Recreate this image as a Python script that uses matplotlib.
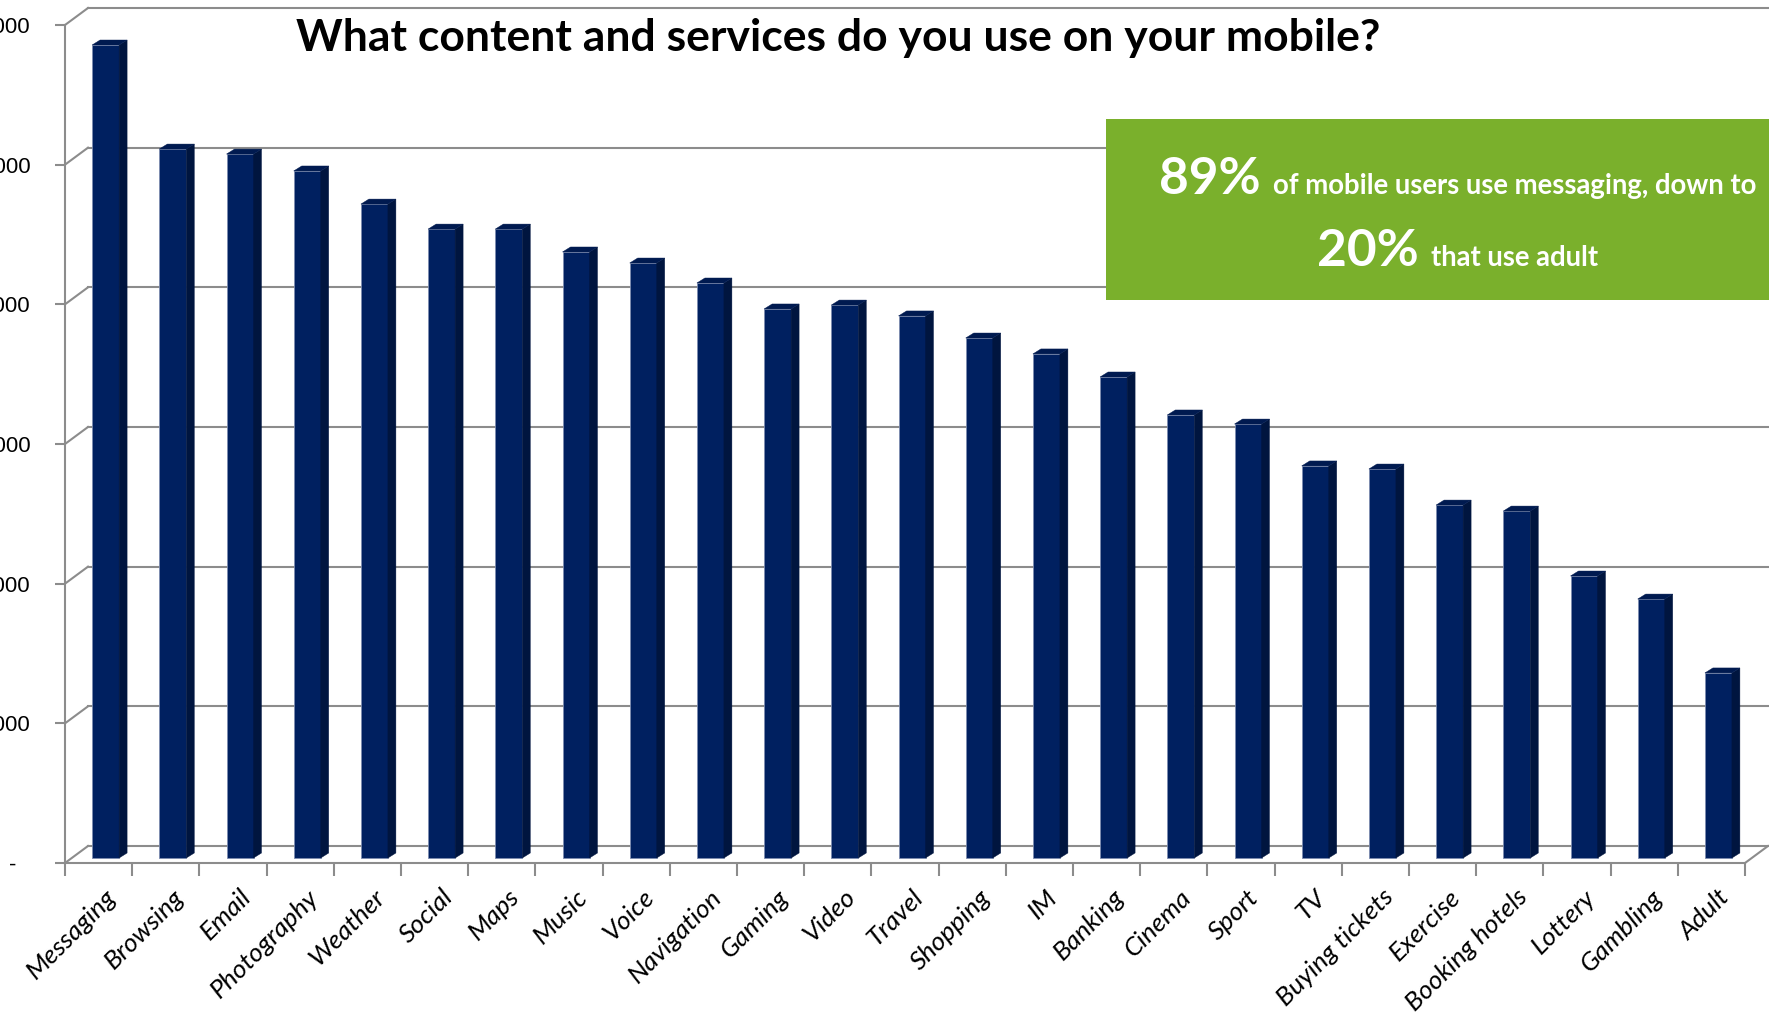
import matplotlib
matplotlib.use("Agg")
import matplotlib.pyplot as plt
from matplotlib.patches import Polygon, Rectangle
from matplotlib.transforms import ScaledTranslation
import numpy as np

# ---------------- data ----------------
categories = ["Messaging", "Browsing", "Email", "Photography", "Weather", "Social",
              "Maps", "Music", "Voice", "Navigation", "Gaming", "Video", "Travel",
              "Shopping", "IM", "Banking", "Cinema", "Sport", "TV", "Buying tickets",
              "Exercise", "Booking hotels", "Lottery", "Gambling", "Adult"]
values = [5821, 5076, 5040, 4919, 4682, 4503, 4503, 4339, 4260, 4117, 3931, 3959,
          3881, 3723, 3609, 3444, 3172, 3107, 2807, 2785, 2527, 2484, 2019, 1854, 1325]
ytick_values = [0, 1000, 2000, 3000, 4000, 5000, 6000]
ytick_labels = ["-", "1,000", "2,000", "3,000", "4,000", "5,000", "6,000"]
title = "What content and services do you use on your mobile?"
callout_big = ["89%", "20%"]
callout_small = ["of mobile users use messaging, down to", "that use adult"]

# ---------------- style ----------------
W, H, DPI = 1769, 1022, 100
FRONT = "#002060"
SIDE = "#00153f"
TOP = "#001a50"
EDGE = "#7d8cb0"
GRID = "#8c8c8c"
GREEN = "#7ab02c"

fig = plt.figure(figsize=(W / DPI, H / DPI), dpi=DPI)
fig.patch.set_facecolor("white")


def fx(px):
    return px / W


def fy(py):
    return 1 - py / H


ax = fig.add_axes([fx(65), fy(863), (1745 - 65) / W, (863 - 25) / H])
n = len(categories)
ax.set_xlim(0, n)
ax.set_ylim(0, 6000)
for s in ax.spines.values():
    s.set_visible(False)
ax.set_facecolor("none")

px_x = ax.bbox.width / n          # pixels per category
px_y = ax.bbox.height / 6000      # pixels per unit


def dxd(p):
    return p / px_x


def dyd(p):
    return p / px_y


# walls / floor
wx, wy = dxd(23), dyd(17)
for yv in ytick_values:
    ax.plot([0, wx], [yv, yv + wy], color=GRID, lw=1.5, clip_on=False, zorder=1)
    ax.plot([wx, n + wx + 1], [yv + wy, yv + wy], color=GRID, lw=1.5, clip_on=False, zorder=1)
ax.plot([0, 0], [0, 6000], color=GRID, lw=1.5, clip_on=False, zorder=1)
ax.plot([0, n], [0, 0], color=GRID, lw=1.5, clip_on=False, zorder=1)
ax.plot([n, n + wx], [0, wy], color=GRID, lw=1.5, clip_on=False, zorder=1)

# ticks
ax.set_yticks(ytick_values, ytick_labels)
ax.tick_params(axis="y", length=7, width=1.5, color=GRID, pad=18,
               labelsize=16, labelcolor="black")
for lab in ax.get_yticklabels():
    lab.set_fontfamily("Liberation Sans")
ylabs = ax.get_yticklabels()
ylabs[0].set_transform(ylabs[0].get_transform() + ScaledTranslation(-14 / DPI, 0, fig.dpi_scale_trans))

centers = np.arange(n) + 0.5
ax.set_xticks(centers, categories)
ax.set_xticks(np.arange(n + 1), minor=True)
ax.tick_params(axis="x", which="major", length=0, pad=16, labelsize=19)
ax.tick_params(axis="x", which="minor", length=9, width=1.5, color=GRID)
for lab in ax.get_xticklabels():
    lab.set_rotation(45)
    lab.set_ha("right")
    lab.set_va("top")
    lab.set_rotation_mode("anchor")
    lab.set_fontstyle("italic")
    lab.set_fontfamily("Lato")
    lab.set_transform(lab.get_transform() + ScaledTranslation(6 / DPI, 0, fig.dpi_scale_trans))

# bars (pseudo-3D)
bw = dxd(27)
bx, by = dxd(7), dyd(5)
ddx, ddy = dxd(8), dyd(5)
ax.bar(centers + bx, values, width=bw, bottom=by,
       color=FRONT, edgecolor=EDGE, linewidth=0.6, zorder=3)
for c, v in zip(centers, values):
    l = c - 0.5 * bw + bx
    r = l + bw
    ax.add_patch(Polygon([(r, by), (r + ddx, by + ddy), (r + ddx, by + v + ddy), (r, by + v)],
                         closed=True, facecolor=SIDE, edgecolor=SIDE, lw=0.3, zorder=3))
    ax.add_patch(Polygon([(l, by + v), (r, by + v), (r + ddx, by + v + ddy), (l + ddx, by + v + ddy)],
                         closed=True, facecolor=TOP, edgecolor=TOP, lw=0.3, zorder=3))

# title
fig.text(fx(838), fy(51), title, ha="center", va="baseline", fontsize=32,
         fontweight="bold", family="Lato", color="black")

# callout box
fig.patches.append(Rectangle((fx(1106), fy(300)), (W - 1106) / W, (300 - 119) / H,
                             transform=fig.transFigure, facecolor=GREEN, edgecolor="none", zorder=5))
fig.text(fx(1159), fy(194), callout_big[0], ha="left", va="baseline", fontsize=37,
         fontweight="bold", family="Lato", color="white", zorder=6)
fig.text(fx(1273), fy(194), callout_small[0], ha="left", va="baseline", fontsize=19.8,
         fontweight="bold", family="Lato", color="white", zorder=6)
fig.text(fx(1317), fy(266), callout_big[1], ha="left", va="baseline", fontsize=37,
         fontweight="bold", family="Lato", color="white", zorder=6)
fig.text(fx(1431), fy(266), callout_small[1], ha="left", va="baseline", fontsize=19.8,
         fontweight="bold", family="Lato", color="white", zorder=6)

fig.savefig("out.png", dpi=DPI)
